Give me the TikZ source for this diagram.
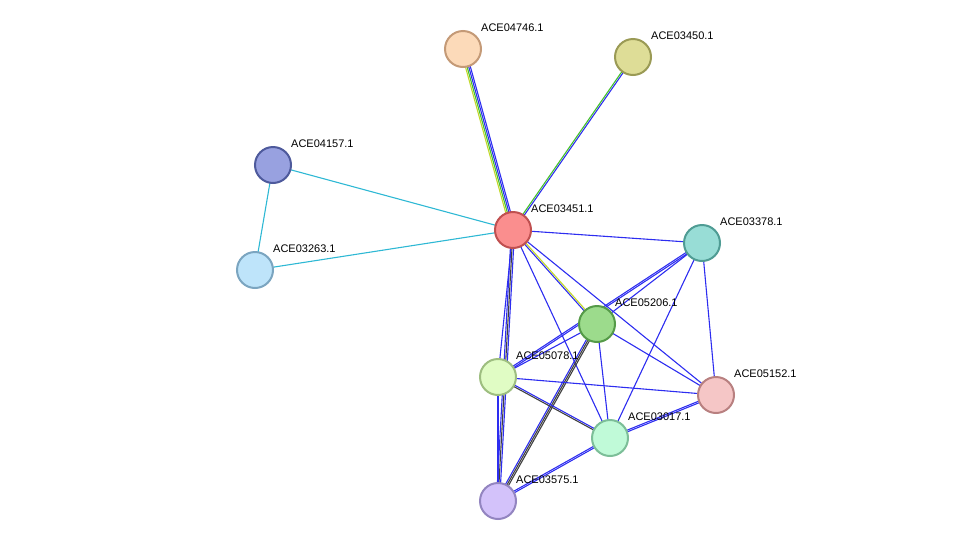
\documentclass[tikz,border=0pt]{standalone}
\usepackage{fontspec}
\setmainfont{Liberation Sans}
\usetikzlibrary{calc,backgrounds}
\definecolor{eb}{HTML}{2D2DF0}
\definecolor{ec}{HTML}{2EB8D4}
\definecolor{eg}{HTML}{44C02C}
\definecolor{ey}{HTML}{C2D82A}
\definecolor{ek}{HTML}{404040}
\tikzset{prot/.style={circle,minimum size=36pt,inner sep=0pt,line width=2pt},
 lab/.style={font=\fontsize{11}{12}\selectfont,anchor=west,inner sep=0pt},
 ed/.style={line width=1.1pt}}
\newcommand\ml[4]{\draw[ed,#4] ($(#1.center)!#3!90:(#2.center)$) -- ($(#2.center)!#3!-90:(#1.center)$);}
\newcommand\pn[6]{\definecolor{f#1}{HTML}{#4}\definecolor{d#1}{HTML}{#5}%
 \node[prot,fill=f#1,draw=d#1] (#1) at (#2,#3) {};
 \node[lab] (l#1) at (#2+18,#3-21) {ACE#1.1};}
\begin{document}
\begin{tikzpicture}[x=1pt,y=-1pt]
\useasboundingbox (0,0) rectangle (975,547);
\pn{04746}{463}{49}{FCDAB9}{C49A77}{}
\pn{03450}{633}{57}{DEDD97}{9A9A55}{}
\pn{04157}{273}{165}{98A1E0}{4E5A9C}{}
\pn{03451}{513}{230}{FA8E8E}{C05050}{}
\pn{03378}{702}{243}{98DDD6}{4F9C94}{}
\pn{03263}{255}{270}{BEE4FA}{7BA5C0}{}
\pn{05206}{597}{324}{9CDB8C}{559A48}{}
\pn{05078}{498}{377}{E0FCC4}{9EBE80}{}
\pn{05152}{716}{395}{F5C6C6}{B88080}{}
\pn{03017}{610}{438}{C0FAD8}{7CBE98}{}
\pn{03575}{498}{501}{D3C2FA}{9385C0}{}
\begin{scope}[on background layer]
\ml{03451}{04746}{-2.4pt}{eb}\ml{03451}{04746}{-0.8pt}{eb}\ml{03451}{04746}{0.8pt}{eg}\ml{03451}{04746}{2.4pt}{ey}
\ml{03451}{03450}{-0.8pt}{eb}\ml{03451}{03450}{0.8pt}{eg}
\ml{04157}{03451}{0pt}{ec}\ml{04157}{03263}{0pt}{ec}\ml{03263}{03451}{0pt}{ec}
\ml{03451}{03378}{0pt}{eb}
\ml{03451}{05206}{-0.8pt}{eb}\ml{03451}{05206}{0.8pt}{ey}
\ml{03451}{05152}{0pt}{eb}\ml{03451}{03017}{0pt}{eb}
\ml{03451}{05078}{0pt}{eb}
\ml{03451}{03575}{-1.6pt}{eb}\ml{03451}{03575}{0pt}{ek}\ml{03451}{03575}{1.6pt}{eb}
\ml{03378}{05206}{0pt}{eb}
\ml{03378}{05078}{-0.8pt}{eb}\ml{03378}{05078}{0.8pt}{eb}
\ml{03378}{03017}{0pt}{eb}\ml{03378}{05152}{0pt}{eb}
\ml{05206}{05152}{0pt}{eb}\ml{05206}{03017}{0pt}{eb}
\ml{05206}{03575}{-1.6pt}{eb}\ml{05206}{03575}{0pt}{ek}\ml{05206}{03575}{1.6pt}{ek}
\ml{05206}{05078}{0pt}{eb}
\ml{05078}{05152}{0pt}{eb}
\ml{05078}{03017}{-0.8pt}{ek}\ml{05078}{03017}{0.8pt}{eb}
\ml{05078}{03575}{-0.8pt}{eb}\ml{05078}{03575}{0.8pt}{eb}
\ml{03017}{05152}{-0.8pt}{eb}\ml{03017}{05152}{0.8pt}{eb}
\ml{03017}{03575}{-0.8pt}{eb}\ml{03017}{03575}{0.8pt}{eb}
\end{scope}
\end{tikzpicture}
\end{document}
